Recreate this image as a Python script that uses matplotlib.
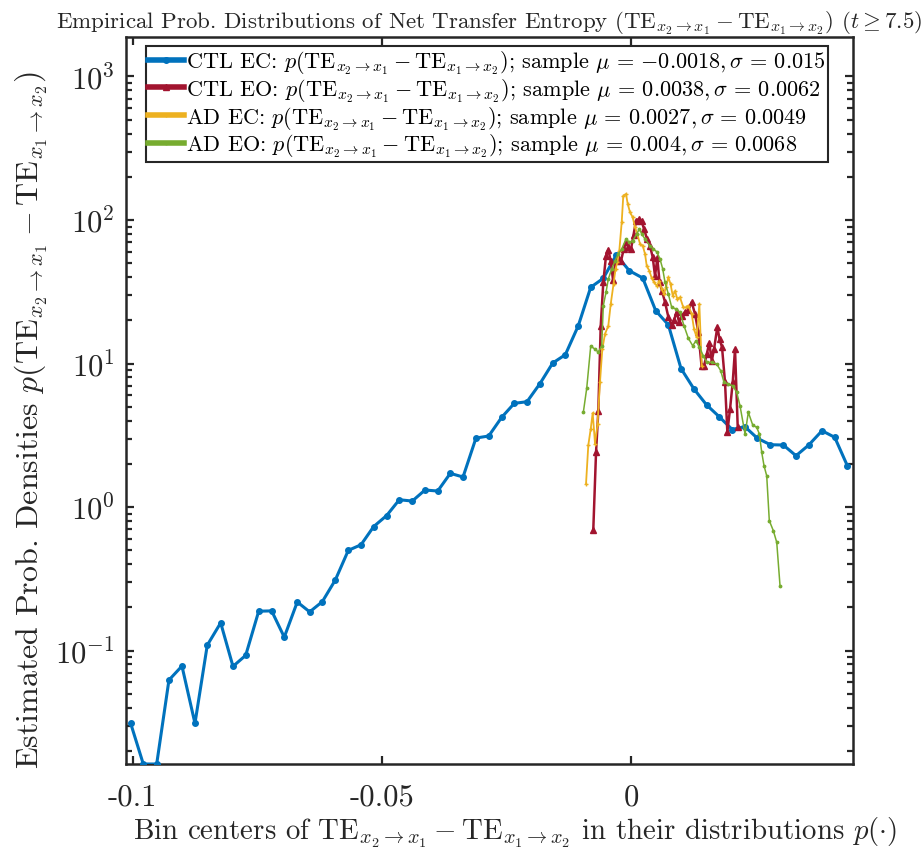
import numpy as np
import matplotlib
matplotlib.use("Agg")
import matplotlib.pyplot as plt
from matplotlib.ticker import LogLocator, FixedLocator, NullFormatter

plt.rcParams['font.family'] = 'serif'
plt.rcParams['font.serif'] = ['cmr10']
plt.rcParams['mathtext.fontset'] = 'cm'
plt.rcParams['axes.formatter.use_mathtext'] = True
plt.rcParams['axes.unicode_minus'] = False

# CTL EC (eyes closed, controls)
ctl_ec_x = [-0.10040, -0.09787, -0.09518, -0.09272, -0.09011, -0.08750, -0.08503,
            -0.08234, -0.07987, -0.07732, -0.07471, -0.07211, -0.06958, -0.06697,
            -0.06448, -0.06195, -0.05934, -0.05673, -0.05418, -0.05164, -0.04903,
            -0.04650, -0.04389, -0.04134, -0.03879, -0.03626, -0.03371, -0.03111,
            -0.02856, -0.02595, -0.02342, -0.02087, -0.01826, -0.01571, -0.01318,
            -0.01058, -0.00809, -0.00556, -0.00295, -0.00034, 0.00235, 0.00496,
            0.00749, 0.01003, 0.01264, 0.01515, 0.01772, 0.02031, 0.02282, 0.02535,
            0.02796, 0.03056, 0.03311, 0.03566, 0.03833, 0.04088, 0.04341]
ctl_ec_p = [0.0311, 0.0162, 0.0162, 0.0623, 0.0780, 0.0311, 0.109, 0.156, 0.0776,
            0.0926, 0.188, 0.189, 0.124, 0.218, 0.186, 0.219, 0.310, 0.499, 0.546,
            0.731, 0.873, 1.124, 1.101, 1.314, 1.293, 1.717, 1.619, 3.026, 3.125,
            4.218, 5.28, 5.418, 7.254, 10.08, 11.52, 18.34, 33.96, 39.24, 57.03,
            44.33, 39.43, 23.33, 18.61, 9.23, 6.641, 5.154, 4.252, 3.468, 3.639,
            3.016, 2.718, 2.705, 2.278, 2.705, 3.402, 3.06, 1.940]

# CTL EO
ctl_eo_x = [-0.00757, -0.00702, -0.00656, -0.00608, -0.00556, -0.00502, -0.00456,
            -0.00407, -0.00361, -0.00311, -0.00255, -0.00201, -0.00146, -0.00100,
            -0.00054, 0.00000, 0.00050, 0.00100, 0.00155, 0.00211, 0.00261, 0.00321,
            0.00381, 0.00435, 0.00482, 0.00528, 0.00572, 0.00622, 0.00682, 0.00749,
            0.00817, 0.00863, 0.00917, 0.00963, 0.01017, 0.01084, 0.01150, 0.01218,
            0.01284, 0.01351, 0.01415, 0.01465, 0.01519, 0.01571, 0.01620, 0.01666,
            0.01732, 0.01776, 0.01826, 0.01886, 0.01933, 0.01987, 0.02041, 0.02087,
            0.02141]
ctl_eo_p = [0.695, 2.405, 4.69, 18.3, 36.8, 56.4, 62.1, 51.8, 38.2, 51.8, 55.2, 51.8,
            62.8, 70.3, 64.8, 62.8, 78.6, 98.4, 101.6, 98.4, 86.6, 73.7, 65.9, 55.2,
            40.7, 54.3, 37.0, 32.0, 26.8, 21.1, 18.5, 20.1, 22.9, 19.5, 21.4, 22.9,
            23.6, 26.8, 22.1, 16.6, 9.61, 9.61, 11.6, 13.9, 10.4, 12.6, 18.0, 14.8,
            13.0, 7.43, 3.33, 4.82, 7.43, 12.6, 3.61]

# AD EC
ad_ec_x = [-0.00903, -0.00857, -0.00809, -0.00769, -0.00722, -0.00672, -0.00622,
           -0.00576, -0.00522, -0.00456, -0.00407, -0.00351, -0.00311, -0.00275,
           -0.00235, -0.00187, -0.00155, -0.00100, -0.00066, -0.00020, 0.00034,
           0.00080, 0.00126, 0.00181, 0.00235, 0.00281, 0.00315, 0.00367, 0.00415,
           0.00462, 0.00516, 0.00568, 0.00612, 0.00662, 0.00702, 0.00749, 0.00793,
           0.00837, 0.00883, 0.00929, 0.00983, 0.01050, 0.01104, 0.01150, 0.01218,
           0.01264, 0.01318, 0.01371, 0.01419]
ad_ec_p = [1.45, 2.70, 3.50, 4.52, 2.75, 3.79, 7.47, 12.6, 16.1, 18.3, 26.0, 35.8,
           45.6, 50.7, 61.1, 96.4, 147.7, 151.8, 129.3, 113.2, 104.4, 88.9, 79.9,
           68.1, 66.2, 58.0, 48.0, 44.3, 39.4, 36.8, 34.8, 37.6, 33.1, 30.5, 34.0,
           39.9, 35.8, 29.7, 32.0, 28.2, 28.9, 24.6, 24.6, 25.3, 22.1, 17.4, 15.2,
           26.0, 9.65]

# AD EO
ad_eo_x = [-0.00957, -0.00889, -0.00809, -0.00722, -0.00656, -0.00588, -0.00556,
           -0.00502, -0.00456, -0.00387, -0.00321, -0.00255, -0.00187, -0.00100,
           -0.00034, 0.00034, 0.00114, 0.00167, 0.00215, 0.00281, 0.00381, 0.00448,
           0.00516, 0.00582, 0.00636, 0.00682, 0.00749, 0.00817, 0.00903, 0.00983,
           0.01064, 0.01150, 0.01238, 0.01304, 0.01371, 0.01451, 0.01519, 0.01620,
           0.01720, 0.01800, 0.01866, 0.01953, 0.02041, 0.02121, 0.02187, 0.02288,
           0.02354, 0.02442, 0.02523, 0.02575, 0.02623, 0.02669, 0.02723, 0.02775,
           0.02856, 0.02924, 0.02990]
ad_eo_p = [4.57, 6.72, 13.2, 12.6, 12.0, 13.3, 25.3, 31.3, 38.8, 45.6, 52.0, 58.0,
           62.8, 73.7, 69.9, 71.7, 79.9, 86.6, 79.9, 73.7, 66.2, 62.8, 60.1, 53.5,
           45.6, 36.8, 30.5, 24.6, 24.0, 22.7, 18.3, 15.0, 13.3, 14.4, 13.0, 11.3,
           10.2, 10.2, 9.92, 8.91, 7.40, 7.20, 7.00, 6.30, 5.08, 3.23, 4.57, 3.73,
           3.59, 3.23, 2.405, 1.94, 1.65, 0.803, 0.684, 0.568, 0.283]

te = r'$p(\mathrm{TE}_{x_2\rightarrow x_1} - \mathrm{TE}_{x_1\rightarrow x_2})$'
labels = [
    'CTL EC: ' + te + r'; sample $\mu\,=\,{-0.0018}, \sigma\,=\,0.015$',
    'CTL EO: ' + te + r'; sample $\mu\,=\,0.0038, \sigma\,=\,0.0062$',
    'AD EC: ' + te + r'; sample $\mu\,=\,0.0027, \sigma\,=\,0.0049$',
    'AD EO: ' + te + r'; sample $\mu\,=\,0.004, \sigma\,=\,0.0068$',
]

fig = plt.figure(figsize=(9.21, 8.54), dpi=100)
ax = fig.add_axes([0.1368, 0.1042, 0.7894, 0.8513])

ax.plot(ctl_ec_x, ctl_ec_p, color='#0072BD', lw=2.2, marker='.', ms=8,
        label=labels[0], zorder=3)
ax.plot(ctl_eo_x, ctl_eo_p, color='#A2142F', lw=1.8, marker='^', ms=4.5,
        label=labels[1], zorder=4)
ax.plot(ad_ec_x, ad_ec_p, color='#EDB120', lw=1.3, marker='+', ms=3.5,
        mew=1.0, label=labels[2], zorder=5)
ax.plot(ad_eo_x, ad_eo_p, color='#77AC30', lw=1.1, marker='.', ms=3.5,
        label=labels[3], zorder=6)

ax.set_yscale('log')
ax.set_xlim(-0.10134, 0.04455)
ax.set_ylim(0.0162, 1884)

ax.set_xticks([-0.1, -0.05, 0])
ax.set_xticklabels(['-0.1', '-0.05', '0'])
ax.yaxis.set_major_locator(FixedLocator([0.1, 1, 10, 100, 1000]))
ax.yaxis.set_minor_locator(LogLocator(base=10, subs=np.arange(2, 10), numticks=20))
ax.yaxis.set_minor_formatter(NullFormatter())

for side in ax.spines.values():
    side.set_linewidth(1.8)
    side.set_color('#262626')
ax.tick_params(which='both', direction='in', top=True, right=True,
               colors='#262626', labelcolor='#262626', width=1.6)
ax.tick_params(which='major', length=6, labelsize=22)
ax.tick_params(axis='x', which='major', pad=14)
ax.tick_params(axis='y', which='major', pad=8)
ax.tick_params(which='minor', length=4)

ax.set_xlabel(r'Bin centers of $\mathrm{TE}_{x_2\rightarrow x_1} - \mathrm{TE}_{x_1\rightarrow x_2}$'
              r' in their distributions $p(\cdot)$', fontsize=20.8, color='#262626')
ax.xaxis.set_label_coords(0.535, -0.069, transform=ax.transAxes)
ax.xaxis.label.set_va('top')
ax.set_ylabel(r'Estimated Prob. Densities $p(\mathrm{TE}_{x_2\rightarrow x_1} - '
              r'\mathrm{TE}_{x_1\rightarrow x_2})$', fontsize=23, color='#262626')
ax.yaxis.set_label_coords(-0.105, 0.475, transform=ax.transAxes)
ax.set_title(r'Empirical Prob. Distributions of Net Transfer Entropy '
             r'$(\mathrm{TE}_{x_2\rightarrow x_1} - \mathrm{TE}_{x_1\rightarrow x_2})$'
             r' $(t \geq 7.5)$', fontsize=16.5, pad=7, color='#262626')

leg = ax.legend(loc='upper left', bbox_to_anchor=(0.027, 0.988), fontsize=16,
                frameon=True, fancybox=False, edgecolor='#262626', framealpha=1,
                borderpad=0.12, labelspacing=0.02, handlelength=1.6,
                handletextpad=0.1, borderaxespad=0.0)
leg.get_frame().set_linewidth(1.5)
for h in leg.get_lines():
    h.set_linewidth(4)

fig.savefig('out.png', dpi=100)
